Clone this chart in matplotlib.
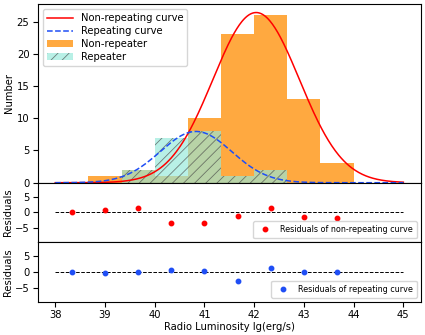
import numpy as np
import matplotlib
matplotlib.use('Agg')
import matplotlib.pyplot as plt

# histogram bins (lg L), 9 bins between 38 and 44
bin_edges = [38.0, 38.667, 39.333, 40.0, 40.667, 41.333, 42.0, 42.667, 43.333, 44.0]
bin_centers = [38.333, 39.0, 39.667, 40.333, 41.0, 41.667, 42.333, 43.0, 43.667]
n_nonrep = [0, 1, 2, 1, 10, 23, 26, 13, 3]
n_rep = [0, 0, 2, 7, 8, 1, 2, 0, 0]

# gaussian fit parameters (amplitude, mean, sigma)
fit_nonrep = (26.4, 42.04, 0.87)
fit_rep = (7.95, 40.83, 0.72)

res_nonrep = [0.0, 0.9, 1.3, -3.2, -3.4, -1.2, 1.3, -1.3, -1.6]
res_rep = [0.0, -0.2, 0.0, 0.8, 0.4, -2.8, 1.3, 0.0, 0.0]

blue = '#1f4ef5'
fs = 7.2

def gauss(x, a, mu, s):
    return a*np.exp(-(x-mu)**2/(2*s**2))

xx = np.linspace(38, 45, 400)

plt.rcParams['hatch.linewidth'] = 0.6
fig = plt.figure(figsize=(4.25, 3.35), dpi=100)
gs = fig.add_gridspec(3, 1, height_ratios=[3, 1, 1], hspace=0,
                      left=0.089, right=0.99, top=0.988, bottom=0.099)
ax1 = fig.add_subplot(gs[0])
ax2 = fig.add_subplot(gs[1], sharex=ax1)
ax3 = fig.add_subplot(gs[2], sharex=ax1)

ax1.plot(xx, gauss(xx, *fit_nonrep), color='red', lw=1.1, label='Non-repeating curve')
ax1.plot(xx, gauss(xx, *fit_rep), '--', color=blue, lw=1.1, label='Repeating curve')
ax1.hist(bin_centers, bins=bin_edges, weights=n_nonrep, color='darkorange', alpha=0.75,
         label='Non-repeater')
ax1.hist(bin_centers, bins=bin_edges, weights=n_rep, color='#96e9da', alpha=0.67,
         hatch='///', edgecolor='#444444', linewidth=0, label='Repeater')
ax1.set_ylabel('Number', fontsize=fs, labelpad=2)
ax1.legend(loc='upper left', fontsize=fs, handlelength=2.6, borderpad=0.4, labelspacing=0.3)
ax1.set_yticks([0, 5, 10, 15, 20, 25])
plt.setp(ax1.get_xticklabels(), visible=False)
ax1.tick_params(axis='x', length=0)

for ax, res, col, lab in [(ax2, res_nonrep, 'red', 'Residuals of non-repeating curve'),
                          (ax3, res_rep, blue, 'Residuals of repeating curve')]:
    ax.plot([38, 45], [0, 0], 'k--', lw=0.7)
    ax.plot(bin_centers, res, 'o', color=col, ms=3.2, label=lab)
    ax.set_ylim(-9.5, 9.5)
    ax.set_yticks([-5, 0, 5])
    ax.set_ylabel('Residuals', fontsize=fs, labelpad=1)
    ax.legend(loc='lower right', fontsize=5.8, borderpad=0.5, handletextpad=0.8)

plt.setp(ax2.get_xticklabels(), visible=False)
ax2.tick_params(axis='x', length=0)
ax3.set_xticks(range(38, 46))
ax3.set_xlabel('Radio Luminosity lg(erg/s)', fontsize=fs, labelpad=1)
for ax in (ax1, ax2, ax3):
    ax.tick_params(labelsize=fs, pad=2.5)

plt.savefig('out.png', dpi=100)
